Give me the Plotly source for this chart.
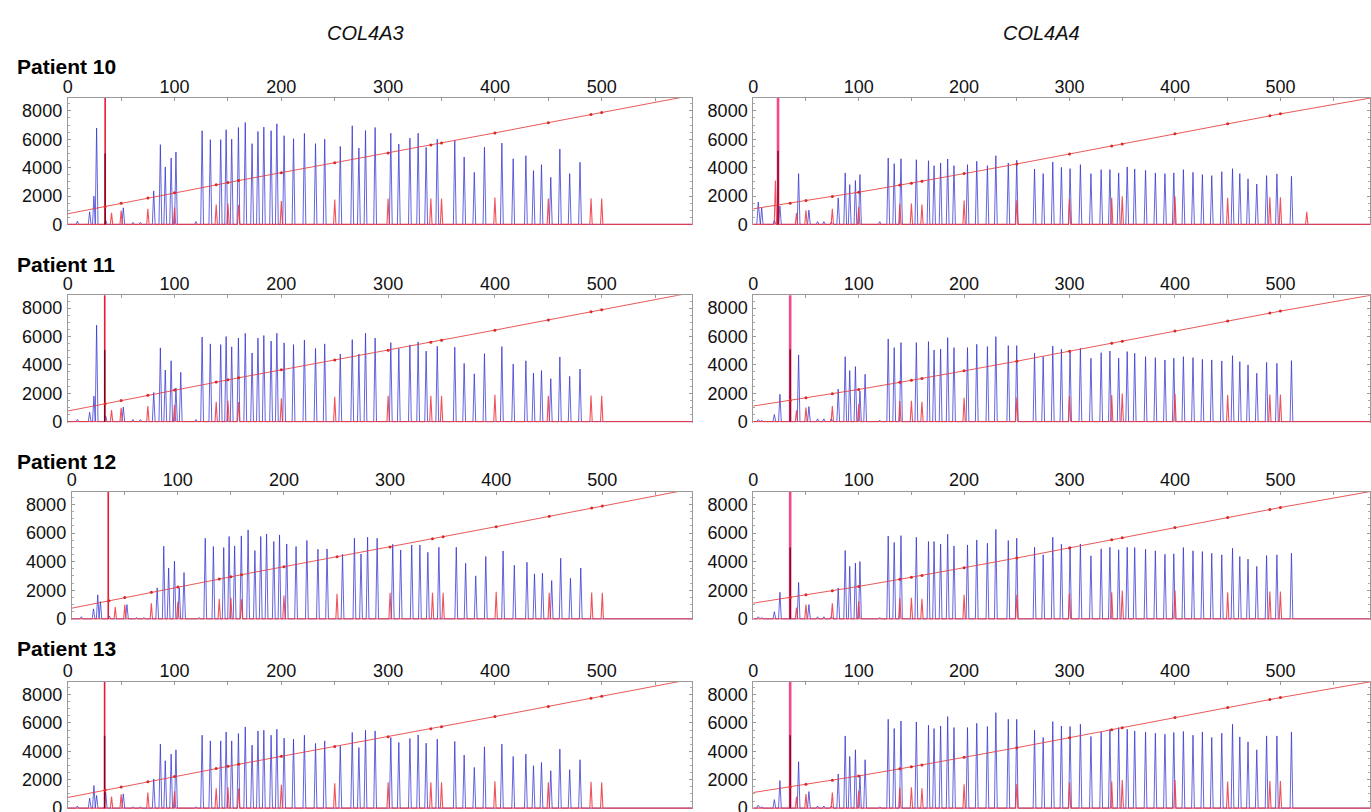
import plotly.graph_objects as go

# ---------------- DATA ----------------
# COL4A3 probe peak positions (bp) and heights (RFU) per patient
a3_pos = [9, 20.5, 24.5, 27, 35.5, 52, 61, 68,
          80.5, 86.7, 91.3, 96.8, 101.3, 105.8, 120, 125.8,
          133.5, 143.2, 148.3, 153.5, 159.8, 166.2, 172.6, 178.1,
          183.6, 190.4, 195.8, 202.6, 211.4, 221.6, 232, 240.6,
          255.2, 266.4, 272.6, 278.8, 287.8, 302.5, 310, 320.4,
          328.1, 335.6, 346, 362.4, 371.2, 380.7, 390.2, 406.5,
          417.1, 429, 436.1, 443.6, 452.3, 460.8, 470, 479.7]
a3_p10 = [230, 890, 1990, 6790, 300, 1170, 150, 150,
          2360, 5620, 4050, 4680, 5100, 0, 200, 6600,
          5970, 5970, 6670, 6010, 6830, 7180, 5690, 6550,
          6860, 6600, 7090, 6250, 6040, 6410, 5690, 6010,
          5500, 6950, 5380, 6620, 6830, 6430, 5660, 6080,
          6430, 5430, 6010, 5920, 4750, 3670, 5450, 5730,
          4630, 4840, 3790, 4210, 3320, 5310, 3580, 4380]
a3_p11 = [150, 660, 1800, 6800, 400, 1030, 150, 150,
          2060, 5200, 3640, 4290, 2380, 3480, 150, 5960,
          5480, 5430, 6000, 5270, 5890, 6230, 4840, 5890,
          6070, 5680, 6230, 5550, 5430, 5750, 5160, 5480,
          4770, 5780, 4770, 6230, 5890, 5570, 5160, 5410,
          5620, 4970, 5320, 5250, 4100, 3370, 4790, 5290,
          4060, 4290, 3420, 3600, 3030, 4560, 3190, 3710]
a3_p12 = [150, 700, 1680, 1210, 200, 1000, 100, 100,
          2170, 5080, 3560, 4030, 2170, 3240, 100, 5640,
          5060, 4990, 5760, 5100, 5800, 6220, 4780, 5760,
          5940, 5410, 5870, 5240, 5060, 5480, 4870, 4890,
          4520, 5640, 4540, 5710, 5640, 5220, 4820, 5170,
          5170, 4660, 5010, 5010, 3890, 3010, 4360, 4750,
          3750, 3960, 3150, 3190, 2680, 4240, 2840, 3560]
a3_p13 = [150, 700, 1590, 890, 1120, 1000, 100, 100,
          2060, 4510, 3340, 3810, 4110, 0, 100, 5140,
          4740, 4740, 5370, 4740, 5260, 5720, 4440, 5440,
          5490, 5140, 5560, 4930, 4860, 5140, 4560, 4740,
          4390, 5330, 4270, 5490, 5440, 4980, 4630, 4910,
          5160, 4580, 4860, 4700, 3740, 2870, 4320, 4510,
          3640, 3810, 2990, 3220, 2640, 4160, 2710, 3410]

# COL4A4 probe peak positions (bp) and heights (RFU) per patient
a4_pos = [4.7, 8, 20, 25.3, 43, 52.8, 61, 67,
          74, 80.6, 87.2, 91.5, 96.9, 101.2, 106.1, 120,
          128, 133.7, 140.1, 154.7, 166.2, 171.5, 177.7, 184.4,
          190.4, 203.2, 212, 222.1, 230.1, 241.9, 249.9, 266.8,
          275, 284.1, 292.3, 300.5, 310.3, 320.3, 330, 338.3,
          346.6, 354.7, 361.8, 372.1, 381.4, 390.5, 398.9, 408,
          417.1, 426, 434.9, 444.4, 454.6, 461.5, 469.3, 477.6,
          486.9, 496.7, 510.5]
a4_p10 = [1570, 1170, 300, 1290, 3580, 1000, 200, 200,
          150, 1870, 3630, 2810, 3090, 3510, 0, 200,
          4680, 4280, 4630, 4560, 4490, 4140, 4330, 4610,
          4140, 4210, 4450, 4140, 4840, 4330, 4520, 3910,
          3580, 4400, 4020, 3930, 4210, 3580, 3860, 3860,
          3630, 4050, 3910, 3810, 3630, 3580, 3630, 3860,
          3670, 3510, 3440, 3720, 3930, 3580, 3210, 2850,
          3440, 3560, 3390]
a4_p11 = [150, 100, 500, 1930, 4700, 1060, 200, 200,
          200, 2300, 4580, 3600, 3880, 2160, 3340, 100,
          5830, 5220, 5570, 5570, 5640, 5050, 5120, 5920,
          5220, 5220, 5450, 5290, 5990, 5360, 5360, 4820,
          4580, 5330, 5100, 4980, 5170, 4470, 4860, 4980,
          4470, 4940, 4820, 4580, 4510, 4350, 4470, 4580,
          4510, 4390, 4350, 4280, 4650, 4230, 4000, 3410,
          4180, 4110, 4300]
a4_p12 = [150, 100, 500, 1860, 2550, 1000, 150, 150,
          150, 2160, 4780, 3670, 3900, 4010, 0, 100,
          5800, 5340, 5820, 5710, 5410, 5410, 5240, 5920,
          5100, 5170, 5520, 5290, 6260, 5480, 5640, 5010,
          4480, 5710, 5220, 5060, 5240, 4410, 4900, 5010,
          4830, 5010, 4990, 4870, 4760, 4520, 4550, 4990,
          4760, 4710, 4590, 4480, 4940, 4360, 4180, 3670,
          4430, 4480, 4590]
a4_p13 = [200, 100, 600, 1940, 3270, 1170, 150, 150,
          150, 2410, 5090, 3640, 4110, 2290, 3410, 100,
          6260, 5610, 6140, 6070, 5840, 5610, 5790, 6450,
          5680, 5680, 5980, 5750, 6730, 6260, 6260, 5490,
          4980, 6100, 5790, 5750, 5910, 5050, 5370, 5560,
          5680, 5560, 5440, 5370, 5280, 5210, 5330, 5400,
          5140, 5370, 4980, 5280, 5910, 5020, 4670, 4110,
          5090, 5090, 5370]

# Size standard (red) peaks
std_pos = [41, 50, 75, 100, 139, 150, 160, 200, 250, 300, 340, 350, 400, 450, 490, 500]
std_left = [820, 980, 1100, 1190, 1400, 1470, 1380, 1640, 1750, 1830, 1830, 1830, 1900, 1830, 1850, 1830]
std_right = [800, 1000, 1100, 1240, 1450, 1470, 1400, 1680, 1700, 1800, 1870, 1990, 1990, 1870, 1920, 1920]
extra_red_p10_right_pos = [21, 525]
extra_red_p10_right_h = [3100, 890]

# Off-scale 35 bp spike: position and dark inner height
spike_left_pos = [35, 34.6, 34.4, 34.5]
spike_left_dark = [5000, 5060, 0, 5100]
spike_right_pos = [23.5, 35, 35, 35]
spike_right_dark = [5200, 5100, 5000, 5140]

# Sizing calibration line (bp -> value) with dots at standards
cal_x = [0, 35, 50, 75, 100, 139, 150, 160, 200, 250, 300, 340, 350, 400, 450, 490, 500, 585]
cal_left = [750, 1270, 1490, 1860, 2230, 2790, 2950, 3090, 3650, 4340, 5030, 5600, 5740, 6450, 7170, 7750, 7890, 9100]
cal_right = [1100, 1500, 1680, 1970, 2270, 2770, 2910, 3040, 3580, 4260, 4960, 5530, 5670, 6390, 7090, 7650, 7790, 8900]

genes = ["COL4A3", "COL4A4"]
patients = ["Patient 10", "Patient 11", "Patient 12", "Patient 13"]
x_ticks = [0, 100, 200, 300, 400, 500]
y_ticks = [0, 2000, 4000, 6000, 8000]

# ---------------- LAYOUT CONSTANTS ----------------
W, H = 1371, 812          # target picture size
H_FIG = 822               # figure height
XMAX = 585
row_px = [(98, 225), (295, 422), (491, 619), (681, 808)]
left_px = [(63, 690), (63, 690), (67, 690), (63, 690)]
right_px = (751, 1370)
title_y = [66, 264, 461, 648]

FONT = "Liberation Sans, Arial, sans-serif"
BLUE = "rgba(50,50,210,0.75)"
RED = "rgba(238,50,60,0.85)"

def yfrac(px):
    return 1 - px / H

def peak_path(pos, hts, hw):
    pairs = sorted((p, h) for p, h in zip(pos, hts) if h > 0)
    xs, ys = [0], [0]
    for p, h in pairs:
        xs += [p - hw, p, p + hw]
        ys += [0, h, 0]
    xs.append(XMAX)
    ys.append(0)
    return xs, ys

fig = go.Figure()
layout = {}

a3_sets = [a3_p10, a3_p11, a3_p12, a3_p13]
a4_sets = [a4_p10, a4_p11, a4_p12, a4_p13]

n = 0
for r in range(4):
    for c in range(2):
        n += 1
        xa = "x" if n == 1 else f"x{n}"
        ya = "y" if n == 1 else f"y{n}"
        if c == 0:
            pos, hts = a3_pos, a3_sets[r]
            std_h = std_left
            sp_pos, sp_dark = spike_left_pos[r], spike_left_dark[r]
            sp_col, sp_w = "rgb(232,25,55)", 1.6
            cal = cal_left
            px0, px1 = left_px[r]
        else:
            pos, hts = a4_pos, a4_sets[r]
            std_h = std_right
            sp_pos, sp_dark = spike_right_pos[r], spike_right_dark[r]
            sp_col, sp_w = "rgb(245,70,140)", 2.6
            cal = cal_right
            px0, px1 = right_px

        # blue probe peaks
        bx, by = peak_path(pos, hts, 1.3)
        fig.add_trace(go.Scatter(x=bx, y=by, mode="lines", xaxis=xa, yaxis=ya,
                                 line=dict(color=BLUE, width=1), hoverinfo="skip"))
        # red size standard peaks
        rp = list(std_pos)
        rh = list(std_h)
        if r == 0 and c == 1:
            rp += extra_red_p10_right_pos
            rh += extra_red_p10_right_h
        rx, ry = peak_path(rp, rh, 1.1)
        fig.add_trace(go.Scatter(x=rx, y=ry, mode="lines", xaxis=xa, yaxis=ya,
                                 line=dict(color=RED, width=1.1), hoverinfo="skip"))
        # off-scale spike
        fig.add_trace(go.Scatter(x=[sp_pos, sp_pos], y=[0, 9500], mode="lines",
                                 xaxis=xa, yaxis=ya,
                                 line=dict(color=sp_col, width=sp_w), hoverinfo="skip"))
        if sp_dark > 0:
            fig.add_trace(go.Scatter(x=[sp_pos, sp_pos], y=[0, sp_dark], mode="lines",
                                     xaxis=xa, yaxis=ya,
                                     line=dict(color="rgb(130,0,25)", width=1.4),
                                     hoverinfo="skip"))
        # calibration line with dots
        fig.add_trace(go.Scatter(x=cal_x, y=cal, mode="lines", xaxis=xa, yaxis=ya,
                                 line=dict(color="rgba(228,60,60,0.85)", width=1),
                                 hoverinfo="skip"))
        fig.add_trace(go.Scatter(x=cal_x[1:-1], y=cal[1:-1], mode="markers",
                                 xaxis=xa, yaxis=ya,
                                 marker=dict(color="rgb(220,40,40)", size=3),
                                 hoverinfo="skip"))

        top, bot = row_px[r]
        xkey = "xaxis" if n == 1 else f"xaxis{n}"
        ykey = "yaxis" if n == 1 else f"yaxis{n}"
        layout[xkey] = dict(
            domain=[px0 / W, px1 / W], anchor=ya, side="top", range=[0, XMAX],
            tickmode="array", tickvals=x_ticks, ticktext=[str(v) for v in x_ticks],
            ticks="inside", ticklen=3, tickcolor="#999",
            minor=dict(dtick=50, tick0=0, ticks="inside", ticklen=3, tickcolor="#999"),
            showline=True, linecolor="#9a9a9a", linewidth=1, mirror=False,
            showgrid=False, zeroline=False,
            tickfont=dict(family=FONT, size=18, color="#111"),
            ticklabelstandoff=-3,
        )
        layout[ykey] = dict(
            domain=[yfrac(bot), yfrac(top)], anchor=xa, range=[-60, 8900],
            tickmode="array", tickvals=y_ticks, ticktext=[str(v) for v in y_ticks],
            ticks="inside", ticklen=3, tickcolor="#999",
            minor=dict(dtick=500, tick0=0, ticks="inside", ticklen=2, tickcolor="#aaa"),
            showline=True, linecolor="#9a9a9a", linewidth=1, mirror="allticks",
            showgrid=False, zeroline=False,
            tickfont=dict(family=FONT, size=18, color="#111"),
            ticklabelstandoff=1,
        )

annotations = []
for r, name in enumerate(patients):
    annotations.append(dict(text=f"<b>{name}</b>", x=10 / W, y=yfrac(title_y[r]),
                            xref="paper", yref="paper", xanchor="left", yanchor="middle",
                            showarrow=False, font=dict(family=FONT, size=21, color="#000")))
for g, xc in zip(genes, [362, 1040]):
    annotations.append(dict(text=f"<i>{g}</i>", x=xc / W, y=yfrac(33),
                            xref="paper", yref="paper", xanchor="center", yanchor="middle",
                            showarrow=False, font=dict(family=FONT, size=20, color="#111")))

fig.update_layout(
    width=W, height=H_FIG, margin=dict(l=0, r=0, t=0, b=0),
    paper_bgcolor="white", plot_bgcolor="white", showlegend=False,
    annotations=annotations, **layout,
)

fig.write_html("out.html", config={"displayModeBar": False},
               post_script="document.body.style.margin='0';document.body.style.padding='0';"
                           "document.body.style.overflow='hidden';"
                           "document.documentElement.style.overflow='hidden';")
